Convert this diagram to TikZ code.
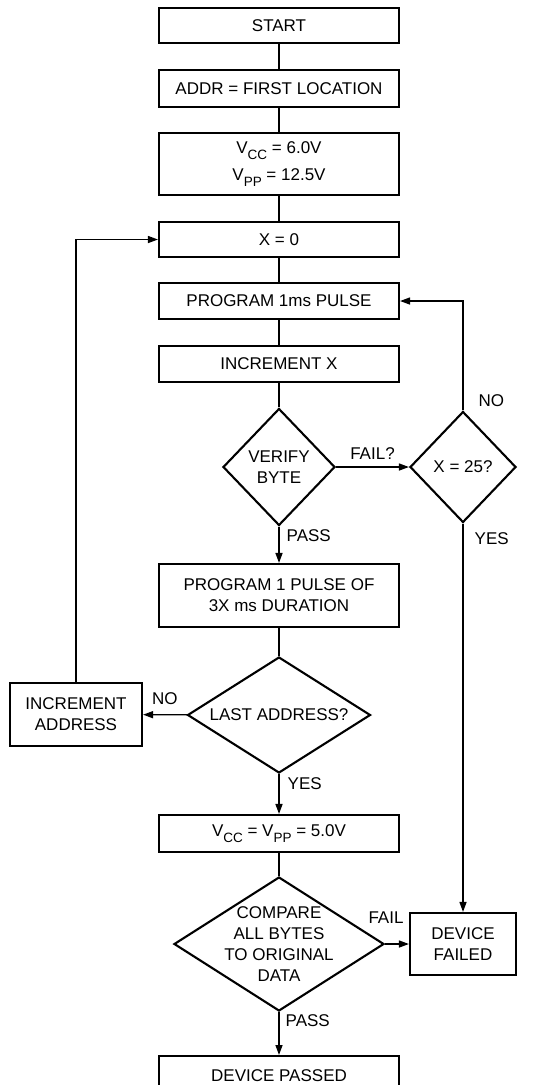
\documentclass[tikz,border=0pt]{standalone}
\usepackage{fontspec}
\setmainfont{Liberation Sans}
\usetikzlibrary{shapes.geometric,arrows.meta}
\newcommand\vsub[1]{\raisebox{-6pt}{\fontsize{13.5}{13.5}\selectfont #1}}
\tikzset{
  box/.style={draw, line width=2.1pt, minimum width=240pt, align=center, inner sep=0pt},
  decision/.style={draw, diamond, line width=2.1pt, align=center, inner sep=0pt},
  conn/.style={line width=1.4pt},
  arr/.style={line width=1.4pt, -{Triangle[length=10pt,width=7pt]}},
  lbl/.style={inner sep=0pt}
}

\begin{document}
\begin{tikzpicture}[x=1pt, y=-1pt, every node/.style={font=\fontsize{17}{21}\selectfont}]
  \useasboundingbox (0,0) rectangle (543,1085);

  % main column
  \node[box, minimum height=35pt] (start) at (279,25.5) {START};
  \node[box, minimum height=37pt] (addr) at (279,88.5) {ADDR = FIRST LOCATION};
  \node[box, minimum height=62pt] (vhigh) at (279,164) {V\vsub{CC} = 6.0V\\[6pt]V\vsub{PP} = 12.5V};
  \node[box, minimum height=35pt] (xzero) at (279,239.5) {X = 0};
  \node[box, minimum height=36pt] (pulse) at (279,301) {PROGRAM 1ms PULSE};
  \node[box, minimum height=36pt] (incx) at (279,364) {INCREMENT X};
  \node[decision, minimum width=112pt, minimum height=117pt, aspect=0.96] (verify) at (279,467) {VERIFY\\BYTE};
  \node[box, minimum height=63pt] (longpulse) at (279,595.5) {PROGRAM 1 PULSE OF\\3X ms DURATION};
  \node[decision, minimum width=183pt, minimum height=116pt, aspect=1.58] (lastaddr) at (279,715) {LAST ADDRESS?};
  \node[box, minimum height=37pt] (vlow) at (279,833.5) {V\vsub{CC} = V\vsub{PP} = 5.0V};
  \node[decision, minimum width=210pt, minimum height=134pt, aspect=1.57, inner xsep=-9pt, inner ysep=-13pt] (compare) at (279,944) {COMPARE\\ALL BYTES\\TO ORIGINAL\\DATA};
  \node[box, minimum height=40pt, anchor=north] (passed) at (279,1055) {DEVICE PASSED};

  % side nodes
  \node[decision, minimum width=106pt, minimum height=111pt, aspect=0.95] (xmax) at (463,467) {X = 25?};
  \node[box, minimum width=106pt, minimum height=62pt] (failed) at (463,944) {DEVICE\\FAILED};
  \node[box, minimum width=132pt, minimum height=63pt] (incaddr) at (76,714.5) {INCREMENT\\ADDRESS};

  % plain links
  \draw[conn] (start) -- (addr);
  \draw[conn] (addr) -- (vhigh);
  \draw[conn] (vhigh) -- (xzero);
  \draw[conn] (xzero) -- (pulse);
  \draw[conn] (pulse) -- (incx);
  \draw[conn] (incx) -- (verify);
  \draw[conn] (longpulse) -- (lastaddr);
  \draw[conn] (vlow) -- (compare);

  % decisions
  \draw[arr] (verify) -- node[lbl, above=7pt] {FAIL?} (xmax);
  \draw[arr] (verify) -- node[lbl, pos=0, anchor=north west, xshift=7pt, yshift=-2pt] {PASS} (longpulse);
  \draw[arr] (xmax) |- node[lbl, pos=0, anchor=south west, xshift=15pt, yshift=3pt] {NO} (pulse);
  \draw[arr] (xmax) -- node[lbl, pos=0, anchor=north west, xshift=11pt, yshift=-8pt] {YES} (failed);
  \draw[arr] (lastaddr) -- node[lbl, above=9pt] {NO} (incaddr);
  \draw[arr] (incaddr) |- (xzero);
  \draw[arr] (lastaddr) -- node[lbl, pos=0, anchor=north west, xshift=8pt, yshift=-3pt] {YES} (vlow);
  \draw[arr] (compare) -- node[lbl, above=20pt, xshift=-11pt] {FAIL} (failed);
  \draw[arr] (compare) -- node[lbl, pos=0, anchor=north west, xshift=6pt, yshift=-2pt] {PASS} (passed);
\end{tikzpicture}
\end{document}
